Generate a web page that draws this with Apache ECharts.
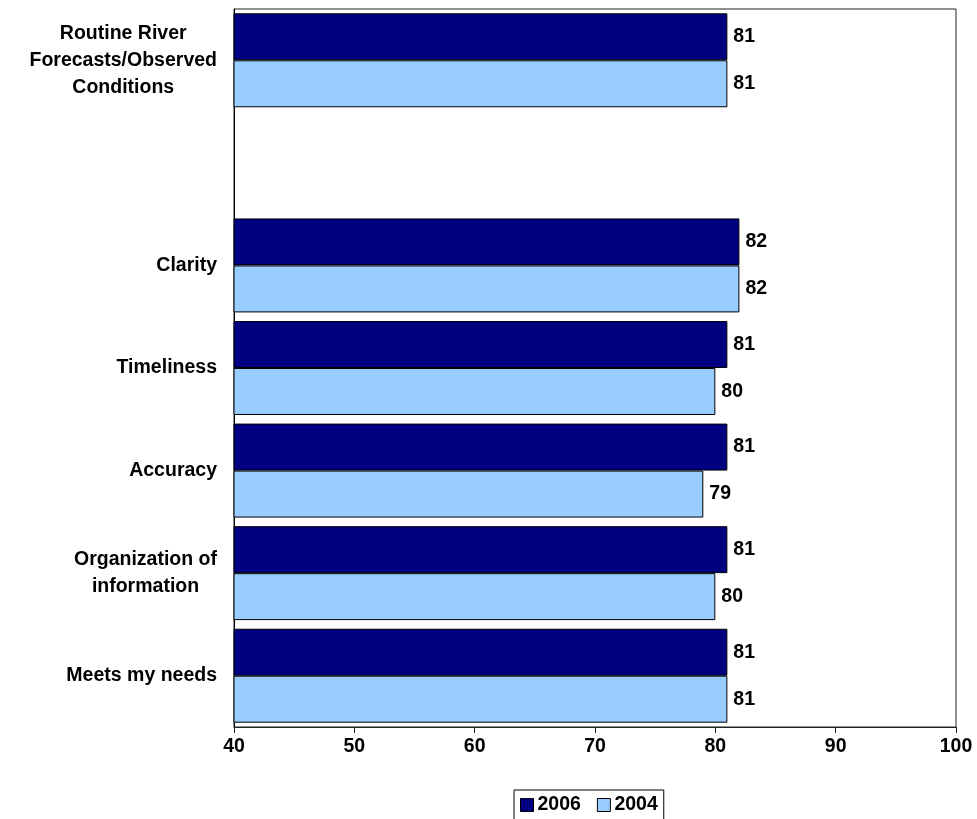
<!DOCTYPE html>
<html>
<head>
<meta charset="utf-8">
<script src="https://cdn.jsdelivr.net/npm/echarts@6/dist/echarts.min.js"></script>
<style>
  html, body { margin: 0; padding: 0; background: #fff; }
  #chart { width: 977px; height: 819px; }
</style>
</head>
<body>
<div id="chart"></div>
<script>
// Satisfaction ratings by attribute (blank row separates the overall item)
const categories = [
  'Routine River\nForecasts/Observed\nConditions',
  '',
  'Clarity',
  'Timeliness',
  'Accuracy',
  'Organization of\ninformation',
  'Meets my needs'
];
const values2006 = [81, '-', 82, 81, 81, 81, 81];
const values2004 = [81, '-', 82, 80, 79, 80, 81];
const xTicks = { min: 40, max: 100, interval: 10 };

const FONT = '"Liberation Sans", Arial, sans-serif';
const FS = 19.5;

const chart = echarts.init(document.getElementById('chart'), null, { renderer: 'canvas' });

// Each line of a category label is centred within its own block
function centredLines(text) {
  if (!text) return '';
  return text.split('\n').map(l => '{c|' + l + '}').join('\n');
}

const barLabel = {
  show: true,
  position: 'right',
  distance: 6,
  color: '#000',
  fontFamily: FONT,
  fontWeight: 'bold',
  fontSize: FS
};

chart.setOption({
  animation: false,
  backgroundColor: '#fff',
  grid: {
    left: 234, right: 21, top: 9, bottom: 92,
    show: true, borderColor: '#222', borderWidth: 1, backgroundColor: 'transparent'
  },
  legend: {
    data: ['2006', '2004'],
    top: 790,
    left: 514,
    itemWidth: 13,
    itemHeight: 13,
    itemGap: 16,
    padding: [5, 6, 8, 6],
    borderColor: '#000',
    borderWidth: 1,
    icon: 'rect',
    itemStyle: { borderColor: '#000', borderWidth: 1 },
    textStyle: { fontFamily: FONT, fontWeight: 'bold', fontSize: FS, color: '#000', padding: [0, 0, 0, -1] }
  },
  xAxis: {
    type: 'value',
    min: xTicks.min,
    max: xTicks.max,
    interval: xTicks.interval,
    splitLine: { show: false },
    axisLine: { show: true, lineStyle: { color: '#222', width: 1 } },
    axisTick: { show: true, length: 6, lineStyle: { color: '#222' } },
    axisLabel: {
      margin: 10,
      color: '#000',
      fontFamily: FONT,
      fontWeight: 'bold',
      fontSize: FS
    }
  },
  yAxis: {
    type: 'category',
    inverse: true,
    data: categories,
    axisLine: { show: true, lineStyle: { color: '#000', width: 1 } },
    axisTick: { show: false },
    axisLabel: {
      margin: 17,
      align: 'right',
      formatter: centredLines,
      rich: {
        c: {
          align: 'center',
          color: '#000',
          fontFamily: FONT,
          fontWeight: 'bold',
          fontSize: FS,
          lineHeight: 27
        }
      }
    }
  },
  series: [
    {
      name: '2006',
      type: 'bar',
      data: values2006,
      barGap: '0%',
      barCategoryGap: '8.4%',
      itemStyle: { color: '#000080', borderColor: '#000', borderWidth: 1 },
      label: barLabel
    },
    {
      name: '2004',
      type: 'bar',
      data: values2004,
      barGap: '0%',
      barCategoryGap: '8.4%',
      itemStyle: { color: '#99CCFF', borderColor: '#000', borderWidth: 1 },
      label: barLabel
    }
  ]
});
</script>
</body>
</html>
